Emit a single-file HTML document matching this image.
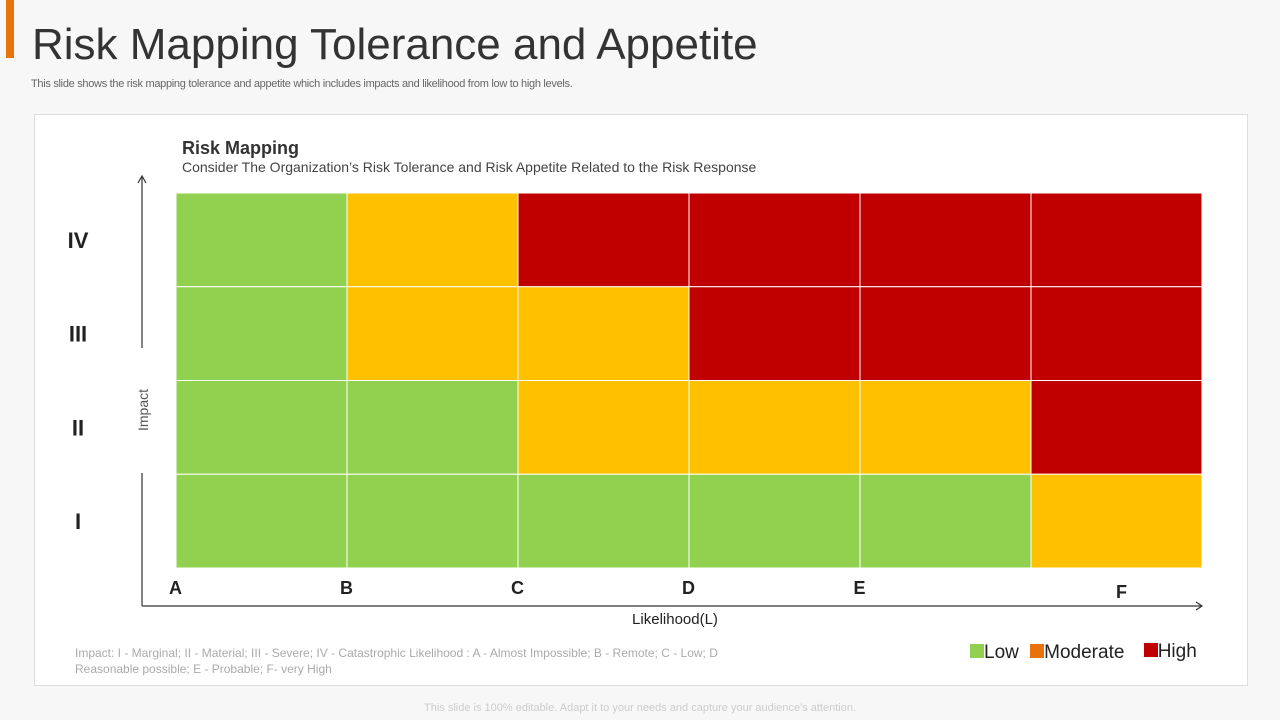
<!DOCTYPE html>
<html><head><meta charset="utf-8"><style>
body{margin:0;width:1280px;height:720px;background:#f7f7f7;font-family:"Liberation Sans",sans-serif;position:relative;overflow:hidden}
.a{position:absolute}
</style></head><body>
<div class="a" style="left:6px;top:0;width:8px;height:58px;background:#e8730c"></div>
<div class="a" style="left:32px;top:20px;font-size:44px;color:#333;letter-spacing:0px">Risk Mapping Tolerance and Appetite</div>
<div class="a" style="left:31px;top:78px;font-size:11px;color:#666;letter-spacing:-0.3px">This slide shows the risk mapping tolerance and appetite which includes impacts and likelihood from low to high levels.</div>
<div class="a" style="left:34px;top:114px;width:1212px;height:570px;background:#fff;border:1px solid #ddd"></div>
<svg class="a" style="left:0;top:0" width="1280" height="720" id="chart"></svg>
<div class="a" style="left:75px;top:645px;width:670px;font-size:12px;line-height:16px;color:#aaa">Impact: I - Marginal; II - Material; III - Severe; IV - Catastrophic Likelihood : A - Almost Impossible; B - Remote; C - Low; D Reasonable possible; E - Probable; F- very High</div>
<div class="a" style="left:970px;top:642px;font-size:19px;color:#222">
<span><span style="display:inline-block;width:14px;height:14px;background:#92d050"></span>Low</span>
<span style="margin-left:6px"><span style="display:inline-block;width:14px;height:14px;background:#e8730c"></span>Moderate</span>
<span style="margin-left:14px;position:relative;top:-1px"><span style="display:inline-block;width:14px;height:14px;background:#c00000"></span>High</span>
</div>
<div class="a" style="left:0;width:1280px;top:702px;text-align:center;font-size:11px;color:#ccc">This slide is 100% editable. Adapt it to your needs and capture your audience's attention.</div>
<script>
const cols=["A","B","C","D","E","F"];
const rows=["IV","III","II","I"];
const levels=[
[0,1,2,2,2,2],
[0,1,1,2,2,2],
[0,0,1,1,1,2],
[0,0,0,0,0,1]];
const colors=["#92d050","#ffc000","#c00000"];
const svg=document.getElementById('chart');const NS="http://www.w3.org/2000/svg";
const x0=176,x1=1202,y0=193,y1=568;
const cw=(x1-x0)/cols.length,rh=(y1-y0)/rows.length;
function X(i){return x0+i*cw}function Y(j){return y0+j*rh}
function mk(t,a,txt){const e=document.createElementNS(NS,t);for(const k in a)e.setAttribute(k,a[k]);if(txt)e.textContent=txt;svg.appendChild(e);return e}
let e;
e=mk('text',{x:182,y:154,'font-size':18,'font-weight':'bold',fill:'#333'},'Risk Mapping');


e=mk('text',{x:182,y:172,'font-size':14,fill:'#444'},'Consider The Organization\u2019s Risk Tolerance and Risk Appetite Related to the Risk Response');


levels.forEach((r,j)=>r.forEach((v,i)=>{
e=mk('rect',{x:X(i),y:Y(j),width:cw,height:rh,fill:colors[v],stroke:'#fff','stroke-width':1});


}));
rows.forEach((r,j)=>{
e=mk('text',{x:78,y:Y(j)+rh/2+8,'font-size':22,'font-weight':'bold','text-anchor':'middle',fill:'#222'},r);


});
cols.forEach((c,i)=>{
e=mk('text',{x:X(i)+cw/2-(i<5?(85-i*0):0)+85- (i<5?86:80),y:i<5?594:598,'font-size':18,'font-weight':'bold','text-anchor':'middle',fill:'#222'},c);


});
e=mk('path',{d:'M142 606H1202M1196 602L1202 606L1196 610M142 606V473M142 348V177M138 183L142 176L146 183',stroke:'#333','stroke-width':1.2,fill:'none'});


e=mk('text',{x:148,y:410,'font-size':14,fill:'#555','text-anchor':'middle',transform:'rotate(-90 148 410)'},'Impact');


e=mk('text',{x:675,y:624,'font-size':15,fill:'#222','text-anchor':'middle'},'Likelihood(L)');


</script>
</body></html>
